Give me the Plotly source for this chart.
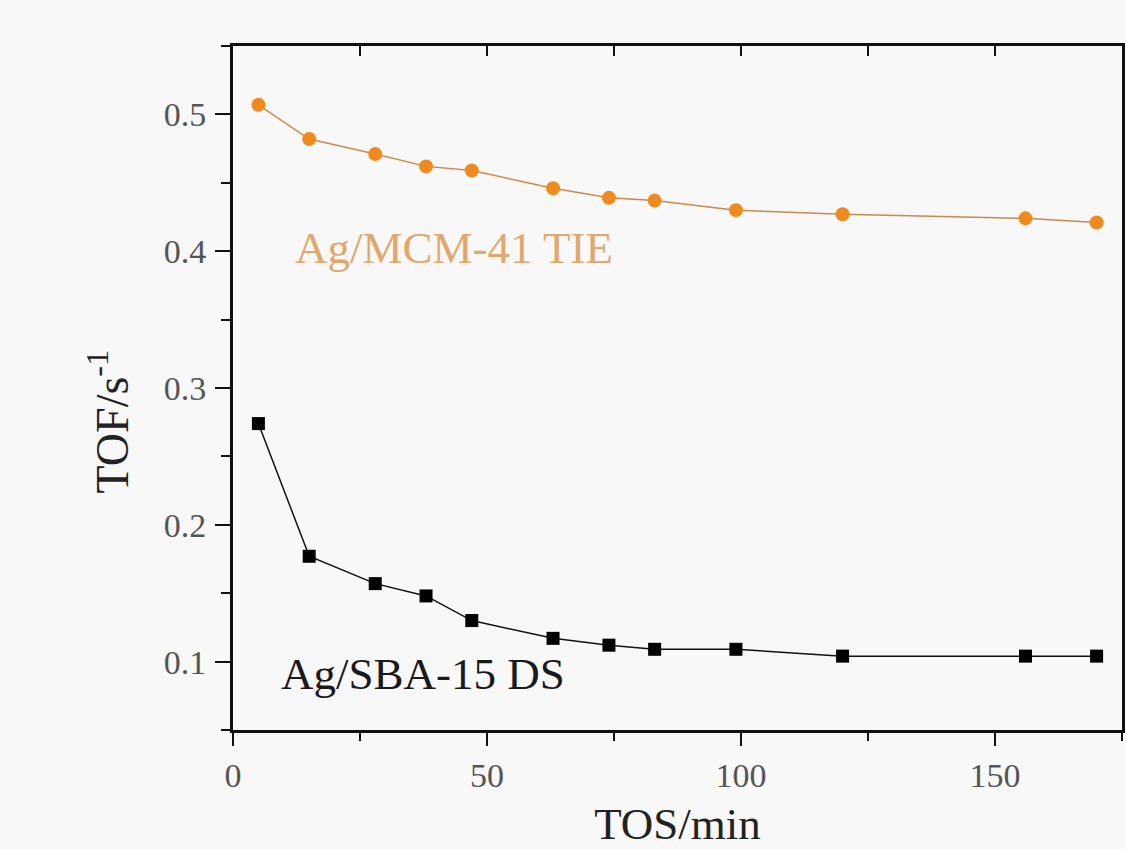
import plotly.graph_objects as go

# TOS (min)
tos = [5, 15, 28, 38, 47, 63, 74, 83, 99, 120, 156, 170]
# TOF (s^-1)
tof_mcm = [0.507, 0.482, 0.471, 0.462, 0.459, 0.446, 0.439, 0.437, 0.430, 0.427, 0.424, 0.421]
tof_sba = [0.274, 0.177, 0.157, 0.148, 0.130, 0.117, 0.112, 0.109, 0.109, 0.104, 0.104, 0.104]

label_mcm = "Ag/MCM-41 TIE"
label_sba = "Ag/SBA-15 DS"
x_title = "TOS/min"
y_title = "TOF/s<sup>-1</sup>"

FONT = "Liberation Serif"

fig = go.Figure()
fig.add_trace(go.Scatter(
    x=tos, y=tof_mcm, mode="lines+markers", name=label_mcm,
    line=dict(color="#c98a4a", width=1.5),
    marker=dict(symbol="circle", size=14, color="#f08a1e"),
))
fig.add_trace(go.Scatter(
    x=tos, y=tof_sba, mode="lines+markers", name=label_sba,
    line=dict(color="#111111", width=1.5),
    marker=dict(symbol="square", size=13, color="#000000"),
))
# invisible trace to activate top axis
fig.add_trace(go.Scatter(x=[0], y=[0.3], xaxis="x2", mode="markers",
                         marker=dict(opacity=0), showlegend=False, hoverinfo="skip"))

fig.add_annotation(x=43.5, y=0.4026, text=label_mcm, showarrow=False,
                   font=dict(family=FONT, size=45, color="#e0a86c"))
fig.add_annotation(x=37.4, y=0.0913, text=label_sba, showarrow=False,
                   font=dict(family=FONT, size=45, color="#1a1a1a"))
# y-axis title as rotated annotation (placed below the axis centre, as in the reference)
fig.add_annotation(xref="paper", yref="paper", x=(108 - 233) / 892, y=(730 - 421) / 684,
                   text=y_title, textangle=-90, showarrow=False,
                   xanchor="center", yanchor="middle",
                   font=dict(family=FONT, size=46, color="#222"))

fig.update_layout(
    width=1126, height=849, autosize=False,
    margin=dict(l=233, r=1, t=46, b=119),
    paper_bgcolor="#f8f8f8", plot_bgcolor="#f8f8f8",
    showlegend=False,
    font=dict(family=FONT, color="#222"),
    xaxis=dict(
        range=[0, 175], showgrid=False, zeroline=False,
        showline=True, linecolor="#111", linewidth=3,
        ticks="outside", ticklen=13, tickwidth=2, tickcolor="#111",
        tickvals=[0, 50, 100, 150], ticktext=["0", "50", "100", "150"],
        minor=dict(ticks="outside", ticklen=8, tickwidth=2, tickcolor="#111", dtick=25, tick0=0),
        tickfont=dict(family=FONT, size=34, color="#555"),
        title=dict(text=x_title, font=dict(family=FONT, size=45, color="#222"), standoff=20),
    ),
    xaxis2=dict(
        overlaying="x", side="top", range=[0, 175], showgrid=False, zeroline=False,
        showline=True, linecolor="#111", linewidth=3,
        ticks="inside", ticklen=10, tickwidth=2, tickcolor="#111",
        dtick=25, tick0=0, showticklabels=False,
    ),
    yaxis=dict(
        range=[0.05, 0.55], showgrid=False, zeroline=False,
        showline=True, linecolor="#111", linewidth=3, mirror=True,
        ticks="outside", ticklen=15, tickwidth=2, tickcolor="#111",
        tickvals=[0.1, 0.2, 0.3, 0.4, 0.5],
        minor=dict(ticks="outside", ticklen=9, tickwidth=2, tickcolor="#111", dtick=0.05, tick0=0.05),
        tickfont=dict(family=FONT, size=34, color="#555"),
        ticklabelstandoff=2,
    ),
)

fig.write_html(
    "out.html",
    config={"responsive": False, "displayModeBar": False},
    post_script="document.body.style.margin='0';document.body.style.overflow='hidden';",
)
